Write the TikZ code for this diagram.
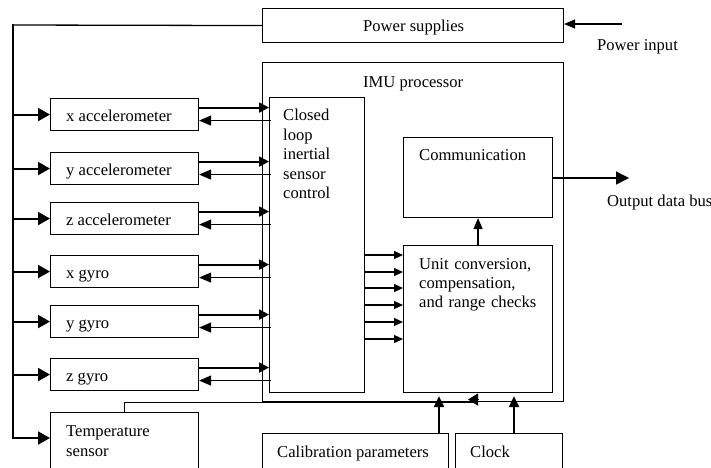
\documentclass[tikz,border=0pt]{standalone}
\usepackage{fontspec}
\setmainfont{Liberation Serif}
\usetikzlibrary{arrows.meta,calc}

\begin{document}
\begin{tikzpicture}[x=1pt,y=-1pt,
  box/.style={draw, line width=1.1pt, inner sep=0pt, anchor=north west},
  txt/.style={inner sep=0pt, anchor=base west, font=\fontsize{16.6}{19.5}\selectfont},
  multi/.style={txt, text width=#1, align=left},
  feed/.style={line width=2pt, -{Triangle[length=12pt,width=13pt]}},
  toctl/.style={line width=2pt, -{Triangle[length=10pt,width=10pt]}},
  fromctl/.style={line width=1.2pt, -{Triangle[length=12pt,width=10pt]}},
  data/.style={line width=1.2pt, -{Triangle[length=9pt,width=8pt]}},
  upin/.style={line width=2pt, shorten >=3pt, -{Triangle[length=11pt,width=10pt]}},
  thinarr/.style={line width=1.3pt, -{Triangle[length=11pt,width=9pt]}},
  bigarr/.style={line width=1.4pt, -{Triangle[length=13pt,width=13pt]}}]

\useasboundingbox (0,0) rectangle (711,467);
\clip (0,0) rectangle (711,467);

% blocks
\node[box, minimum width=301pt, minimum height=34pt]  (ps)   at (262,8)   {};
\node[box, minimum width=301pt, minimum height=339pt] (imu)  at (262,62)  {};
\node[box, minimum width=95pt,  minimum height=295pt] (cl)   at (269,97)  {};
\node[box, minimum width=149pt, minimum height=80pt]  (comm) at (403,137) {};
\node[box, minimum width=149pt, minimum height=147pt] (uc)   at (403,245) {};
\node[box, minimum width=148pt, minimum height=32pt]  (xa)   at (50,98)   {};
\node[box, minimum width=148pt, minimum height=32pt]  (ya)   at (50,152)  {};
\node[box, minimum width=148pt, minimum height=32pt]  (za)   at (50,202)  {};
\node[box, minimum width=148pt, minimum height=32pt]  (xg)   at (50,255)  {};
\node[box, minimum width=148pt, minimum height=32pt]  (yg)   at (50,305)  {};
\node[box, minimum width=148pt, minimum height=32pt]  (zg)   at (50,358)  {};
\node[box, minimum width=148pt, minimum height=70pt]  (ts)   at (50,412)  {};
\node[box, minimum width=186pt, minimum height=50pt]  (cal)  at (262,433) {};
\node[box, minimum width=107pt, minimum height=50pt]  (clk)  at (455,433) {};

% labels
\node[txt] (tps)   at (363,31.5)  {Power supplies};
\node[txt] (tpin)  at (597,50)    {Power input};
\node[txt] (timu)  at (363,87.3)  {IMU processor};
\node[multi=75pt] (tcl) at (283,120.7) {Closed\\loop\\inertial\\sensor\\control};
\node[txt] (tcomm) at (419,160)   {Communication};
\node[multi=140pt, font=\fontsize{16.6}{19.2}\selectfont] (tuc) at (419,269.3)
  {Unit conversion,\\compensation,\\and range checks};
\node[txt] (tout)  at (607,206.7) {Output data bus};
\node[txt] (txa) at ($(xa.west)+(16,7)$) {x accelerometer};
\node[txt] (tya) at ($(ya.west)+(16,7)$) {y accelerometer};
\node[txt] (tza) at ($(za.west)+(16,7)$) {z accelerometer};
\node[txt] (txg) at ($(xg.west)+(16,7)$) {x gyro};
\node[txt] (tyg) at ($(yg.west)+(16,7)$) {y gyro};
\node[txt] (tzg) at ($(zg.west)+(16,7)$) {z gyro};
\node[multi=120pt, font=\fontsize{16.6}{19.3}\selectfont] (tts) at (66,436.7) {Temperature\\sensor};
\node[txt] (tcal) at (277,457.3) {Calibration parameters};
\node[txt] (tclk) at (470,457.3) {Clock};

% power distribution bus
\coordinate (bt) at (13,25);
\coordinate (tsin) at (50,438);
\draw[line width=1.3pt] (ps.west) -- (bt);
\draw[line width=2.6pt, line cap=rect] (bt) -- (bt |- tsin);
\foreach \n in {xa,ya,za,xg,yg,zg}
  \draw[feed] (bt |- \n.west) -- (\n.west);
\draw[feed] (bt |- tsin) -- (tsin);

% power input
\coordinate (pin) at (622,24);
\draw[thinarr] (pin) -- (pin -| ps.east);

% sensor loops
\foreach \n in {xa,ya,za,xg,yg,zg} {
  \draw[toctl] ([yshift=7pt]\n.east) -- ([yshift=7pt]\n.east -| cl.west);
  \draw[fromctl] ([xshift=2pt,yshift=-6pt]\n.east -| cl.west) -- ([yshift=-6pt]\n.east);
}

% data to unit conversion
\foreach \yy in {255,272,288,305,322,339}
  \draw[data] (cl.east |- 0,\yy) -- (uc.west |- 0,\yy);

% unit conversion to communication and output
\draw[thinarr] (uc.north) -- (comm.south);
\coordinate (obus) at (629,178);
\draw[bigarr] (comm.east |- obus) -- (obus);

% calibration and clock inputs
\draw[upin] (cal.north -| 439,0) -- (uc.south -| 439,0);
\draw[upin] (clk.north -| 514,0) -- (uc.south -| 514,0);

% temperature feed
\coordinate (tend) at (478,402.5);
\draw[line width=1.5pt] (ts.north) |- (tend);
\coordinate (tb) at (478,399.5);
\coordinate (ttip) at (468,399.5);
\draw[line width=1.2pt, -{Triangle[length=10pt,width=12pt]}] (tb) -- (ttip);
\end{tikzpicture}
\end{document}
